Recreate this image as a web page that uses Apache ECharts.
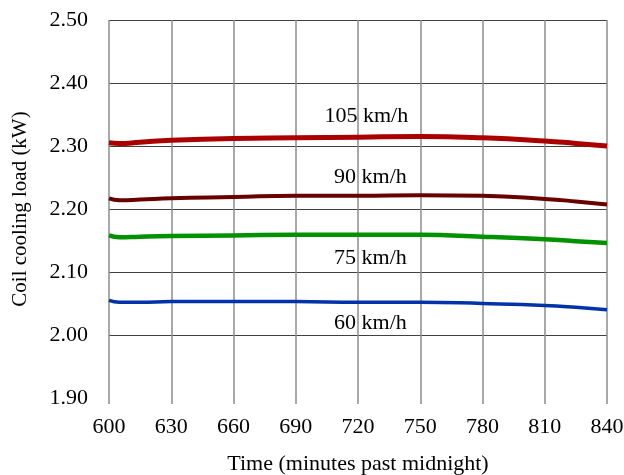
<!DOCTYPE html>
<html>
<head>
<meta charset="utf-8">
<script src="https://cdn.jsdelivr.net/npm/echarts@6/dist/echarts.min.js"></script>
<style>html,body{margin:0;padding:0;background:#fff}#c{width:624px;height:475px}</style>
</head>
<body>
<div id="c"></div>
<script>
const times = [600, 605, 615, 630, 660, 690, 720, 750, 780, 810, 825, 840];
const load105 = [2.305, 2.304, 2.306, 2.309, 2.312, 2.313, 2.314, 2.315, 2.313, 2.308, 2.304, 2.300];
const load90  = [2.217, 2.214, 2.215, 2.217, 2.219, 2.221, 2.221, 2.222, 2.221, 2.216, 2.212, 2.207];
const load75  = [2.158, 2.155, 2.156, 2.157, 2.158, 2.159, 2.159, 2.159, 2.156, 2.152, 2.149, 2.146];
const load60  = [2.055, 2.052, 2.052, 2.053, 2.053, 2.053, 2.052, 2.052, 2.050, 2.047, 2.044, 2.040];
const labelNames = ['105 km/h', '90 km/h', '75 km/h', '60 km/h'];
const labelX = [724, 726, 726, 726];
const labelY = [2.348, 2.250, 2.122, 2.018];
const xTicks = [600, 630, 660, 690, 720, 750, 780, 810, 840];
const yTicks = [1.90, 2.00, 2.10, 2.20, 2.30, 2.40, 2.50];

const FONT = 'Liberation Serif';
const FS = 22;
function pairs(vals){ return times.map((t,i)=>[t, vals[i]]); }
function line(name, vals, color, width){
  return {name, type:'line', smooth:true, symbol:'none', data:pairs(vals),
    lineStyle:{color, width}, z:3};
}
const chart = echarts.init(document.getElementById('c'), null, {renderer:'canvas'});
chart.setOption({
  animation:false,
  backgroundColor:'#fff',
  grid:{left:109, right:17, top:20, bottom:77, containLabel:false, outerBoundsMode:'none'},
  xAxis:{type:'value', min:xTicks[0], max:xTicks[xTicks.length-1], interval:30,
    name:'Time (minutes past midnight)', nameLocation:'middle', nameGap:55,
    nameTextStyle:{fontFamily:FONT, fontSize:FS, color:'#000'},
    axisLine:{show:false},
    axisTick:{show:true, length:6, lineStyle:{color:'#8c8c8c', width:1.5}},
    axisLabel:{fontFamily:FONT, fontSize:FS, color:'#000', margin:18},
    splitLine:{show:true, lineStyle:{color:'#8c8c8c', width:1.5}}},
  yAxis:{type:'value', min:yTicks[0], max:yTicks[yTicks.length-1], interval:0.1,
    name:'Coil cooling load (kW)', nameLocation:'middle', nameGap:78,
    nameTextStyle:{fontFamily:FONT, fontSize:21, color:'#000'},
    axisLine:{show:false}, axisTick:{show:false},
    axisLabel:{fontFamily:FONT, fontSize:FS, color:'#000', margin:21,
      formatter:v=>v.toFixed(2)},
    splitLine:{show:true, showMinLine:false, lineStyle:{color:'#404040', width:1}}},
  series:[
    line('105 km/h', load105, '#aa0000', 5),
    line('90 km/h', load90, '#680000', 4),
    line('75 km/h', load75, '#009200', 4.5),
    line('60 km/h', load60, '#0033a8', 3.5),
    {type:'scatter', symbolSize:0, z:4, silent:true,
      itemStyle:{opacity:1},
      data:labelNames.map((n,i)=>({name:n, value:[labelX[i], labelY[i]]})),
      label:{show:true, position:'inside', formatter:p=>p.name, opacity:1,
        fontFamily:FONT, fontSize:FS, color:'#000',
        textBorderWidth:0, textBorderColor:'transparent'}}
  ]
});
</script>
</body>
</html>
